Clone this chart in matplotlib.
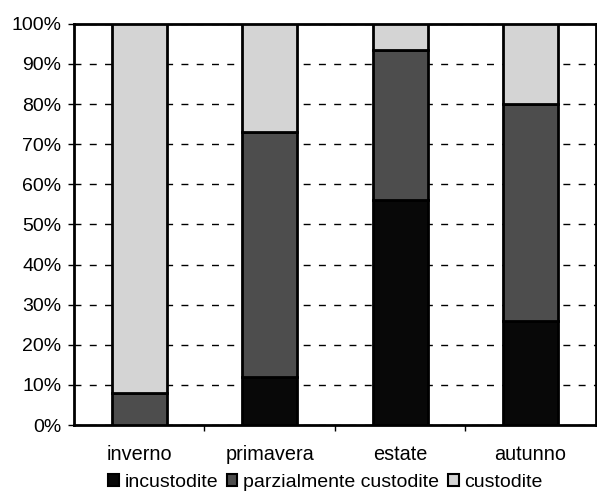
import matplotlib.pyplot as plt
from matplotlib.patches import Patch
from matplotlib.ticker import FixedLocator, PercentFormatter

plt.rcParams['font.family'] = ['Liberation Sans', 'DejaVu Sans']

seasons = ["inverno", "primavera", "estate", "autunno"]
incustodite = [0, 12, 56, 26]
parzialmente = [8, 61, 37.5, 54]
custodite = [92, 27, 6.5, 20]

series = [
    ("incustodite", incustodite, "#080808"),
    ("parzialmente custodite", parzialmente, "#4d4d4d"),
    ("custodite", custodite, "#d4d4d4"),
]

fig = plt.figure(figsize=(5.97, 4.96), dpi=100)
ax = fig.add_axes([0.124, 0.143, 0.874, 0.809])

x = range(len(seasons))
bottom = [0] * len(seasons)
for name, vals, color in series:
    ax.bar(x, vals, width=0.42, bottom=bottom, color=color,
           edgecolor="black", linewidth=2, label=name, zorder=3)
    bottom = [b + v for b, v in zip(bottom, vals)]

ax.set_xlim(-0.5, len(seasons) - 0.5)
ax.set_ylim(0, 100)
ax.set_yticks(range(0, 101, 10))
ax.yaxis.set_major_formatter(PercentFormatter(decimals=0))
ax.yaxis.grid(True, linestyle=(0, (5, 6)), color="black", linewidth=1, zorder=0)

ax.set_xticks(list(x))
ax.set_xticklabels(seasons)
ax.xaxis.set_minor_locator(FixedLocator([0.5, 1.5, 2.5]))
ax.tick_params(axis="x", which="major", length=0, pad=14, labelsize=14.3)
ax.tick_params(axis="x", which="minor", length=4, width=1)
ax.tick_params(axis="y", length=4, width=1, labelsize=14, pad=5)

for s in ax.spines.values():
    s.set_linewidth(2)
    s.set_color("black")

handles = [Patch(facecolor=c, edgecolor="black", linewidth=1.5, label=n)
           for n, _, c in series]
fig.legend(handles=handles, loc="center", bbox_to_anchor=(0.545, 0.027),
           ncol=3, frameon=False, fontsize=14, handlelength=0.55,
           handleheight=0.55, handletextpad=0.3, columnspacing=0.45,
           borderpad=0)

fig.savefig("out.png", dpi=100)
